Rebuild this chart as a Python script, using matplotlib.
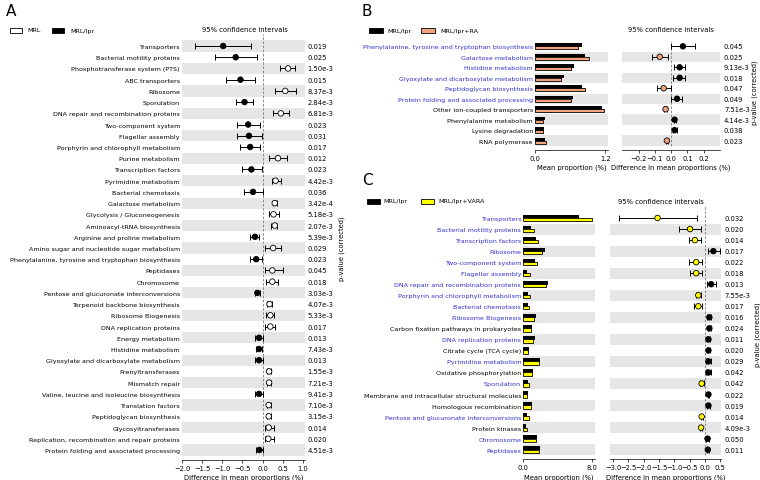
import numpy as np
import matplotlib
matplotlib.use('Agg')
import matplotlib.pyplot as plt
from matplotlib.patches import Rectangle

plt.rcParams['font.family'] = ['DejaVu Sans']

# ---- panel A : MRL vs MRL/lpr ----
a_names = ['Transporters', 'Bacterial motility proteins', 'Phosphotransferase system (PTS)', 'ABC transporters',
           'Ribosome', 'Sporulation', 'DNA repair and recombination proteins', 'Two-component system',
           'Flagellar assembly', 'Porphyrin and chlorophyll metabolism', 'Purine metabolism', 'Transcription factors',
           'Pyrimidine metabolism', 'Bacterial chemotaxis', 'Galactose metabolism', 'Glycolysis / Gluconeogenesis',
           'Aminoacyl-tRNA biosynthesis', 'Arginine and proline metabolism', 'Amino sugar and nucleotide sugar metabolism',
           'Phenylalanine, tyrosine and tryptophan biosynthesis', 'Peptidases', 'Chromosome',
           'Pentose and glucuronate interconversions', 'Terpenoid backbone biosynthesis', 'Ribosome Biogenesis',
           'DNA replication proteins', 'Energy metabolism', 'Histidine metabolism',
           'Glyoxylate and dicarboxylate metabolism', 'Prenyltransferases', 'Mismatch repair',
           'Valine, leucine and isoleucine biosynthesis', 'Translation factors', 'Peptidoglycan biosynthesis',
           'Glycosyltransferases', 'Replication, recombination and repair proteins',
           'Protein folding and associated processing']
a_pvals = ['0.019', '0.025', '1.50e-3', '0.015', '8.37e-3', '2.84e-3', '6.81e-3', '0.023', '0.031', '0.017',
           '0.012', '0.023', '4.42e-3', '0.036', '3.42e-4', '5.18e-3', '2.07e-3', '5.39e-3', '0.029', '0.023',
           '0.045', '0.018', '3.03e-3', '4.07e-3', '5.33e-3', '0.017', '0.013', '7.43e-3', '0.013', '1.55e-3',
           '7.21e-3', '9.41e-3', '7.10e-3', '3.15e-3', '0.014', '0.020', '4.51e-3']
a_diff = [-0.98, -0.67, 0.63, -0.55, 0.56, -0.45, 0.45, -0.36, -0.34, -0.31, 0.38, -0.28, 0.32, -0.24, 0.30,
          0.27, 0.30, -0.19, 0.26, -0.16, 0.24, 0.24, -0.13, 0.17, 0.19, 0.19, -0.09, -0.09, -0.09, 0.16, 0.16,
          -0.09, 0.15, 0.15, 0.15, 0.14, -0.08]
a_lo = [-1.69, -1.19, 0.44, -0.90, 0.31, -0.65, 0.26, -0.64, -0.64, -0.55, 0.16, -0.50, 0.22, -0.47, 0.25,
        0.16, 0.20, -0.31, 0.06, -0.31, 0.06, 0.09, -0.20, 0.12, 0.09, 0.07, -0.20, -0.17, -0.20, 0.11, 0.11,
        -0.19, 0.10, 0.10, 0.06, 0.06, -0.16]
a_hi = [-0.28, -0.13, 0.81, -0.19, 0.82, -0.24, 0.65, -0.07, -0.01, -0.07, 0.60, -0.02, 0.45, 0.00, 0.35,
        0.40, 0.36, -0.09, 0.46, -0.01, 0.50, 0.38, -0.06, 0.22, 0.27, 0.30, 0.01, -0.02, 0.00, 0.21, 0.21,
        0.00, 0.20, 0.20, 0.27, 0.27, 0.00]

# ---- panel B : MRL/lpr vs MRL/lpr+RA ----
b_names = ['Phenylalanine, tyrosine and tryptophan biosynthesis', 'Galactose metabolism', 'Histidine metabolism',
           'Glyoxylate and dicarboxylate metabolism', 'Peptidoglycan biosynthesis',
           'Protein folding and associated processing', 'Other ion-coupled transporters',
           'Phenylalanine metabolism', 'Lysine degradation', 'RNA polymerase']
b_blue = [1, 1, 1, 1, 1, 1, 0, 0, 0, 0]
b_pvals = ['0.045', '0.025', '9.13e-3', '0.018', '0.047', '0.049', '7.51e-3', '4.14e-3', '0.038', '0.023']
b_lpr = [0.81, 0.86, 0.66, 0.49, 0.81, 0.65, 1.15, 0.17, 0.15, 0.17]
b_ra = [0.74, 0.92, 0.62, 0.45, 0.85, 0.62, 1.18, 0.14, 0.13, 0.19]
b_diff = [0.072, -0.070, 0.052, 0.052, -0.046, 0.036, -0.034, 0.021, 0.021, -0.026]
b_lo = [0.0, -0.12, 0.017, 0.011, -0.087, 0.0, -0.042, 0.015, 0.009, -0.034]
b_hi = [0.144, -0.02, 0.083, 0.083, -0.003, 0.069, -0.026, 0.027, 0.033, -0.018]

# ---- panel C : MRL/lpr vs MRL/lpr+VARA ----
c_names = ['Transporters', 'Bacterial motility proteins', 'Transcription factors', 'Ribosome',
           'Two-component system', 'Flagellar assembly', 'DNA repair and recombination proteins',
           'Porphyrin and chlorophyll metabolism', 'Bacterial chemotaxis', 'Ribosome Biogenesis',
           'Carbon fixation pathways in prokaryotes', 'DNA replication proteins', 'Citrate cycle (TCA cycle)',
           'Pyrimidine metabolism', 'Oxidative phosphorylation', 'Sporulation',
           'Membrane and intracellular structural molecules', 'Homologous recombination',
           'Pentose and glucuronate interconversions', 'Protein kinases', 'Chromosome', 'Peptidases']
c_blue = [1, 1, 1, 1, 1, 1, 1, 1, 1, 1, 0, 1, 0, 1, 0, 1, 0, 0, 1, 0, 1, 1]
c_pvals = ['0.032', '0.020', '0.014', '0.017', '0.022', '0.018', '0.013', '7.55e-3', '0.017', '0.016', '0.024',
           '0.011', '0.020', '0.029', '0.042', '0.042', '0.022', '0.019', '0.014', '4.09e-3', '0.050', '0.011']
c_lpr = [6.55, 0.86, 1.45, 2.51, 1.37, 0.43, 2.92, 0.50, 0.55, 1.45, 1.06, 1.33, 0.66, 2.0, 1.17, 0.55, 0.55,
         1.02, 0.47, 0.27, 1.6, 2.0]
c_vara = [8.0, 1.29, 1.68, 2.24, 1.6, 0.74, 2.68, 0.74, 0.66, 1.29, 0.86, 1.17, 0.5, 1.88, 1.06, 0.66, 0.47,
          0.9, 0.62, 0.39, 1.5, 1.88]
c_diff = [-1.55, -0.49, -0.33, 0.27, -0.29, -0.29, 0.20, -0.22, -0.22, 0.14, 0.14, 0.11, 0.11, 0.11, 0.11,
          -0.11, 0.11, 0.11, -0.11, -0.13, 0.08, 0.09]
c_lo = [-2.81, -0.84, -0.51, 0.09, -0.51, -0.49, 0.06, -0.30, -0.35, 0.07, 0.09, 0.06, 0.06, 0.02, 0.02,
        -0.18, 0.08, 0.06, -0.14, -0.16, 0.03, 0.05]
c_hi = [-0.25, -0.14, -0.14, 0.49, -0.11, -0.11, 0.36, -0.14, -0.11, 0.21, 0.19, 0.16, 0.16, 0.20, 0.20,
        -0.04, 0.14, 0.16, -0.08, -0.10, 0.13, 0.13]

W, H = 760, 481
FS = 4.6
BLUE = '#3030d0'
GRAY = '#e6e6e6'
ORANGE = '#f2a47e'
YELLOW = '#ffff00'

fig = plt.figure(figsize=(7.6, 4.81), dpi=100)


def px_axes(l, t, r, b):
    return fig.add_axes([l / W, 1 - b / H, (r - l) / W, (b - t) / H])


def ftext(x, y, s, **kw):
    fig.text(x / W, 1 - y / H, s, **kw)


def swatch(x0, x1, y, fc):
    fig.add_artist(Rectangle((x0 / W, 1 - (y + 2.5) / H), (x1 - x0) / W, 5 / H, transform=fig.transFigure,
                             facecolor=fc, edgecolor='black', linewidth=0.6))


def style_ax(ax, n):
    ax.set_ylim(-0.5, n - 0.5)
    for s in ['top', 'right', 'left']:
        ax.spines[s].set_visible(False)
    ax.spines['bottom'].set_position(('outward', 3))
    ax.spines['bottom'].set_linewidth(0.5)
    ax.tick_params(axis='y', length=0, labelsize=FS, pad=1.5)
    ax.tick_params(axis='x', length=2, width=0.5, labelsize=FS + 0.3, pad=1.5)
    ax.set_facecolor('none')
    for y in range(n):
        if y % 2 == 0:
            ax.axhspan(y - 0.5, y + 0.5, color=GRAY, lw=0, zorder=0)


def ci_plot(ax, diff, lo, hi, pvals, pos_col, neg_col, xlim, ticks, ext, pv_x):
    n = len(diff)
    y = np.arange(n)[::-1]
    style_ax(ax, n)
    ax.set_xlim(*xlim)
    ax.set_xticks(ticks)
    ax.set_yticks([])
    ax.axvline(0, ymin=0, ymax=1 + ext, clip_on=False, color='#777777', ls='--', lw=0.6, dashes=(3, 2), zorder=1)
    d = np.array(diff)
    err = [d - np.array(lo), np.array(hi) - d]
    ax.errorbar(d, y, xerr=err, fmt='none', ecolor='black', elinewidth=0.7, capsize=2.2, capthick=0.7, zorder=2)
    cols = [pos_col if v > 0 else neg_col for v in d]
    ax.scatter(d, y, s=16, c=cols, edgecolors='black', linewidths=0.6, zorder=3)
    for yy, p in zip(y, pvals):
        ax.text(pv_x, yy, p, transform=ax.get_yaxis_transform(), fontsize=FS + 0.3, va='center', ha='left')
    ax.set_xlabel('Difference in mean proportions (%)', fontsize=FS + 0.3, labelpad=2)


def bar_plot(ax, names, blue, v1, v2, c2, xlim, ticks):
    n = len(names)
    y = np.arange(n)[::-1]
    style_ax(ax, n)
    ax.set_xlim(*xlim)
    ax.set_xticks(ticks)
    ax.set_xticklabels(['%.1f' % t for t in ticks])
    ax.barh(y + 0.13, v1, height=0.34, color='black', zorder=2)
    ax.barh(y - 0.14, v2, height=0.30, color=c2, edgecolor='black', linewidth=0.6, zorder=2)
    ax.set_yticks(y)
    ax.set_yticklabels(names)
    for lab, b in zip(ax.get_yticklabels(), blue):
        lab.set_color(BLUE if b else 'black')
    ax.set_xlabel('Mean proportion (%)', fontsize=FS + 0.3, labelpad=2)


# ---------- A ----------
axA = px_axes(182, 41.4, 305, 456.6)
ci_plot(axA, a_diff, a_lo, a_hi, a_pvals, 'white', 'black', (-2.0, 1.05),
        [-2.0, -1.5, -1.0, -0.5, 0.0, 0.5, 1.0], 0.015, 1.02)
yA = np.arange(len(a_names))[::-1]
axA.set_yticks(yA)
axA.set_yticklabels(a_names)
ftext(11, 12, 'A', fontsize=11, ha='center', va='center')
swatch(10, 22, 31, 'white')
ftext(27, 31, 'MRL', fontsize=FS, va='center')
swatch(52, 64, 31, 'black')
ftext(70, 31, 'MRL/lpr', fontsize=FS, va='center')
ftext(245, 30, '95% confidence intervals', fontsize=FS + 0.3, ha='center', va='center')
ftext(342, 249, 'p-value (corrected)', fontsize=FS + 0.3, ha='center', va='center', rotation=90)

# ---------- B ----------
axB1 = px_axes(535, 42.1, 607.7, 146.9)
bar_plot(axB1, b_names, b_blue, b_lpr, b_ra, ORANGE, (0, 1.24), [0.0, 1.2])
axB2 = px_axes(622.3, 42.1, 720, 146.9)
ci_plot(axB2, b_diff, b_lo, b_hi, b_pvals, 'black', ORANGE, (-0.3, 0.3),
        [-0.2, -0.1, 0.0, 0.1, 0.2], 0.0, 1.04)
ftext(367, 11, 'B', fontsize=11, ha='center', va='center')
swatch(369, 383, 31, 'black')
ftext(387, 31, 'MRL/lpr', fontsize=FS, va='center')
swatch(421, 435, 31, ORANGE)
ftext(440, 31, 'MRL/lpr+RA', fontsize=FS, va='center')
ftext(671, 30, '95% confidence intervals', fontsize=FS + 0.3, ha='center', va='center')
ftext(755, 93, 'p-value (corrected)', fontsize=FS + 0.3, ha='center', va='center', rotation=90)

# ---------- C ----------
axC1 = px_axes(523.3, 213.5, 595, 456.2)
bar_plot(axC1, c_names, c_blue, c_lpr, c_vara, YELLOW, (0, 8.4), [0.0, 8.0])
axC2 = px_axes(610, 213.5, 721, 456.2)
ci_plot(axC2, c_diff, c_lo, c_hi, c_pvals, 'black', YELLOW, (-3.1, 0.52),
        [-3.0, -2.5, -2.0, -1.5, -1.0, -0.5, 0.0, 0.5], 0.025, 1.03)
ftext(367, 181, 'C', fontsize=11, ha='center', va='center')
swatch(367, 380, 202, 'black')
ftext(383, 202, 'MRL/lpr', fontsize=FS, va='center')
swatch(421, 434, 202, YELLOW)
ftext(438, 202, 'MRL/lpr+VARA', fontsize=FS, va='center')
ftext(661, 202, '95% confidence intervals', fontsize=FS + 0.3, ha='center', va='center')
ftext(758, 335, 'p-value (corrected)', fontsize=FS + 0.3, ha='center', va='center', rotation=90)

fig.savefig('out.png', dpi=100)
